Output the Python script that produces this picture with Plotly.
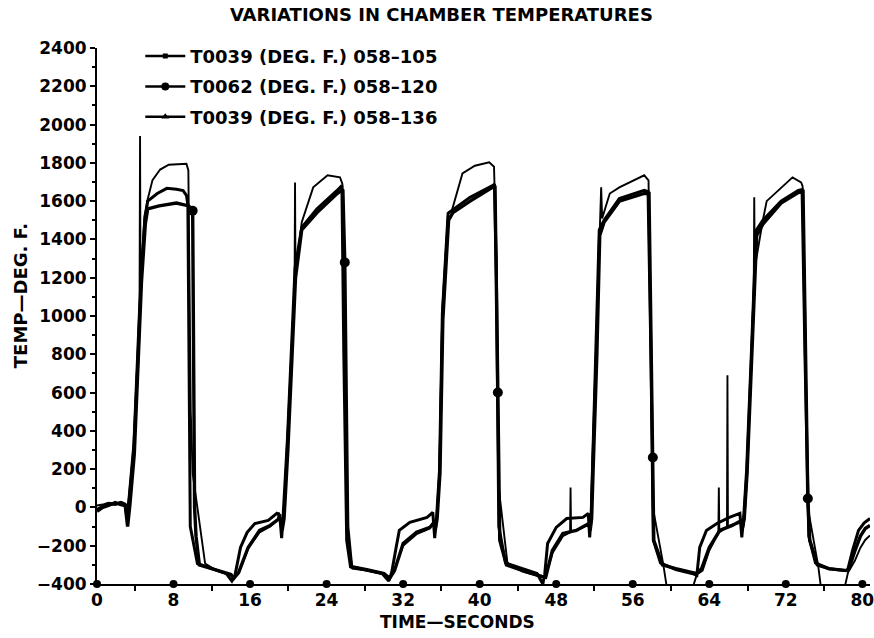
import numpy as np
import plotly.graph_objects as go

# ---------------- data ----------------
# T0039 (DEG. F.) 058-105
t_a = [0, 0.6, 1.2, 1.9, 2.5, 2.95, 3.15, 3.35, 3.85, 4.3, 4.6, 5.0, 5.3, 6.3, 7.3, 8.3, 9.0, 9.35, 9.5, 9.75, 10.5,
       12.0, 13.5, 14.1, 14.4, 15.0, 15.7, 16.5, 17.9, 18.8, 19.1, 19.3, 19.45, 19.9, 20.7, 21.4, 23.0, 25.1, 25.6, 25.8, 26.1, 26.5,
       28.0, 29.8, 30.5, 30.8, 31.3, 31.6, 32.7, 34.5, 35.1, 35.3, 35.5, 35.8, 36.1, 36.7, 37.1, 39.0, 41.4, 41.55, 41.75, 42.0, 42.7,
       44.5, 46.0, 46.6, 46.8, 47.1, 48.0, 49.1, 50.8, 51.35, 51.5, 51.65, 51.8, 52.2, 52.5, 53.0, 54.6, 57.2, 57.6, 57.9, 58.15, 58.9,
       60.5, 62.2, 62.7, 63.0, 63.7, 64.8, 66.1, 67.2, 67.4, 67.6, 67.9, 68.4, 68.9, 69.6, 71.5, 73.3, 73.7, 74.0, 74.4, 75.1,
       76.5, 78.2, 78.45, 79.0, 79.6, 80.2, 80.8]
v_a = [-10, 5, 20, 15, 25, 15, -60, 30, 300, 800, 1200, 1500, 1600, 1640, 1667, 1662, 1655, 1630, 1580, -100, -293,
       -320, -345, -385, -360, -209, -130, -84, -68, -31, -40, -160, -50, 350, 1250, 1463, 1560, 1656, 1682, 800, -172, -310,
       -325, -345, -385, -340, -200, -120, -78, -52, -26, -160, -50, 193, 1013, 1536, 1552, 1620, 1682, 1690, 1200, -100, -290,
       -320, -345, -400, -350, -188, -104, -58, -52, -31, -157, -50, 193, 836, 1450, 1500, 1614, 1656, 1650, 800, -170, -290,
       -325, -345, -355, -209, -120, -84, -52, -31, -157, -50, 193, 805, 1447, 1500, 1600, 1656, 1660, 800, -150, -290,
       -320, -330, -330, -220, -120, -80, -58]

# T0062 (DEG. F.) 058-120
t_b = [0, 0.6, 1.2, 1.9, 2.5, 2.95, 3.2, 3.45, 3.9, 4.35, 4.65, 5.05, 5.3, 6.5, 8.3, 9.6, 10.0, 10.2, 10.35, 10.7,
       12.5, 14.0, 14.3, 14.8, 15.8, 17.0, 18.1, 19.0, 19.2, 19.35, 19.55, 19.95, 20.75, 21.4, 23.0, 25.1, 25.7, 25.9, 26.2, 26.6,
       28.2, 30.0, 30.6, 31.1, 32.0, 33.4, 34.8, 35.2, 35.35, 35.55, 35.85, 36.15, 36.75, 37.2, 39.0, 41.3, 41.6, 41.9, 42.1, 42.8,
       44.5, 46.5, 46.9, 47.6, 48.7, 50.1, 51.4, 51.55, 51.7, 51.85, 52.25, 52.55, 53.0, 54.6, 57.2, 57.7, 58.1, 58.2, 59.1,
       60.5, 62.6, 63.2, 64.0, 65.1, 66.4, 67.3, 67.45, 67.65, 67.95, 68.45, 68.95, 69.6, 71.5, 73.3, 73.8, 74.3, 74.5, 75.3,
       76.5, 78.3, 78.6, 79.2, 79.8, 80.3, 80.8]
v_b = [-20, 0, 10, 25, 15, 10, -100, 20, 280, 780, 1180, 1480, 1560, 1575, 1590, 1575, 1550, 0, -150, -300,
       -325, -350, -370, -340, -209, -120, -94, -60, -70, -120, -60, 300, 1200, 1450, 1540, 1640, 1660, 1280, -100, -310,
       -325, -345, -370, -330, -188, -130, -104, -80, -120, -60, 180, 980, 1500, 1540, 1600, 1670, 1680, 600, -172, -300,
       -330, -360, -365, -225, -136, -120, -84, -120, -60, 180, 800, 1420, 1490, 1600, 1640, 1640, 261, -172, -300,
       -320, -345, -320, -209, -120, -94, -70, -110, -60, 180, 780, 1420, 1480, 1590, 1645, 1650, 47, -172, -300,
       -320, -330, -320, -230, -150, -110, -94]

# T0039 (DEG. F.) 058-136
t_c = [0, 0.6, 1.2, 1.9, 2.5, 2.95, 3.1, 3.3, 3.8, 4.25, 4.45, 4.5, 4.55, 4.95, 5.3, 5.8, 6.6, 7.5, 9.0, 9.35, 9.55, 9.8, 10.0, 11.3,
       12.5, 14.0, 14.3, 14.8, 15.8, 17.0, 18.1, 18.9, 19.0, 19.1, 19.3, 19.5, 19.85, 20.65, 20.7, 20.75, 21.4, 22.6, 24.1, 25.4, 25.65, 25.85, 26.2, 26.7,
       28.2, 30.0, 30.6, 31.0, 32.0, 33.4, 34.8, 35.2, 35.4, 35.6, 35.8, 36.1, 36.7, 37.1, 38.2, 39.5, 41.0, 41.5, 41.75, 42.0, 42.9,
       44.5, 46.5, 46.9, 47.6, 48.7, 49.45, 49.5, 49.55, 50.1, 51.4, 51.6, 51.75, 52.2, 52.6, 52.7, 52.8, 53.6, 54.6, 57.2, 57.65, 57.85, 58.1, 59.2, 59.6,
       62.2, 62.7, 63.3, 64.0, 64.95, 65.0, 65.05, 65.85, 65.9, 65.95, 66.4, 67.3, 67.5, 67.7, 68.0, 68.45, 68.65, 68.7, 68.75, 69.6, 70.0, 72.7, 73.6, 73.75, 74.0, 74.3, 75.4, 75.7,
       78.1, 78.5, 79.2, 79.8, 80.3, 80.8]
v_c = [10, 15, 25, 20, 30, 20, -40, 50, 330, 830, 1100, 1940, 1150, 1520, 1610, 1710, 1765, 1790, 1797, 1795, 1760, 500, 178, -293,
       -330, -355, -370, -345, -215, -130, -100, -65, -26, -60, -70, -45, 320, 1150, 1698, 1200, 1490, 1672, 1735, 1724, 1690, 900, -150, -320,
       -330, -350, -365, -340, -200, -140, -110, -70, -90, -40, 220, 1040, 1540, 1552, 1745, 1785, 1803, 1780, 1300, 100, -290,
       -335, -365, -360, -240, -150, -130, 104, -125, -120, -90, -70, 200, 850, 1450, 1672, 1510, 1640, 1672, 1735, 1708, 1000, 0, -300, -430,
       -430, -350, -330, -225, -135, 104, -130, -105, 690, -100, -90, -80, -120, -50, 200, 800, 1150, 1620, 1250, 1500, 1600, 1724, 1698, 1680, 1100, 0, -310, -430,
       -430, -340, -280, -210, -170, -146]

# times at which the T0062 circle markers sit on its trace
marker_times_b = [10.0, 25.9, 41.9, 58.1, 74.3]

series_names = ["T0039 (DEG. F.) 058\u2013105",
                "T0062 (DEG. F.) 058\u2013120",
                "T0039 (DEG. F.) 058\u2013136"]

x_tick_vals = list(range(0, 81, 8))
x_minor_vals = list(range(4, 80, 8))
y_tick_vals = list(range(-400, 2401, 200))

title_text = "VARIATIONS IN CHAMBER TEMPERATURES"
x_title = "TIME\u2014SECONDS"
y_title = "TEMP\u2014DEG. F."

# ---------------- figure ----------------
FONT = "DejaVu Sans"
W, H = 874, 638
fig = go.Figure()

widths = [3.0, 3.4, 1.9]
symbols = ["square", "circle", "triangle-up"]
msizes = [5, 8, 7]
for (tt, vv), w in zip([(t_a, v_a), (t_b, v_b), (t_c, v_c)], widths):
    fig.add_trace(go.Scatter(x=tt, y=vv, mode="lines",
                             line=dict(color="black", width=w),
                             showlegend=False, hoverinfo="skip"))

# circle markers on T0062
fig.add_trace(go.Scatter(x=marker_times_b, y=np.interp(marker_times_b, t_b, v_b),
                         mode="markers", marker=dict(color="black", size=10, symbol="circle"),
                         showlegend=False, hoverinfo="skip"))

# axis decoration dots at labelled time ticks
fig.add_trace(go.Scatter(x=x_tick_vals, y=[y_tick_vals[0]] * len(x_tick_vals),
                         mode="markers", marker=dict(color="black", size=8, symbol="circle"),
                         cliponaxis=False, showlegend=False, hoverinfo="skip"))

# legend entries
for i, name in enumerate(series_names):
    fig.add_trace(go.Scatter(x=[None], y=[None], mode="lines+markers", name=name,
                             legendgroup=f"g{i}",
                             line=dict(color="black", width=2.5),
                             marker=dict(color="black", size=msizes[i], symbol=symbols[i])))

axis_font = dict(family=FONT, size=17, color="black", weight="bold")

fig.update_layout(
    width=W, height=H,
    margin=dict(l=97, r=4, t=48, b=54, autoexpand=False),
    paper_bgcolor="white", plot_bgcolor="white",
    title=dict(text=title_text, x=0.505, xanchor="center", y=1 - 15 / H, yanchor="middle",
               pad=dict(t=0, b=0),
               font=dict(family=FONT, size=18, color="black", weight="bold")),
    legend=dict(x=0.056, xanchor="left", y=1.019, yanchor="top",
                bgcolor="rgba(0,0,0,0)", tracegroupgap=4, itemwidth=40,
                font=dict(family=FONT, size=18, color="black", weight="bold"),
                traceorder="grouped"),
    xaxis=dict(range=[0, 80.8], tickvals=x_tick_vals, ticks="", showgrid=False, zeroline=False,
               showline=True, linecolor="black", linewidth=2, automargin=False,
               tickfont=axis_font, ticklabeloverflow="allow",
               minor=dict(tickvals=x_minor_vals, ticks="outside",
                          ticklen=5, tickcolor="black", tickwidth=2)),
    yaxis=dict(range=[-400, 2400], tickvals=y_tick_vals, ticks="outside", ticklen=5, tickwidth=2,
               tickcolor="black", showgrid=False, zeroline=False, automargin=False,
               showline=True, linecolor="black", linewidth=2,
               tickfont=axis_font, ticklabelstandoff=0, ticklabeloverflow="allow",
               minor=dict(dtick=100, tick0=-400, ticks="outside", ticklen=3, tickcolor="black", tickwidth=2)),
    annotations=[
        dict(text=x_title, xref="paper", yref="paper", x=0.466, y=-0.071, xanchor="center", yanchor="middle",
             showarrow=False, font=dict(family=FONT, size=17, color="black", weight="bold")),
        dict(text=y_title, xref="paper", yref="paper", x=-0.0996, y=0.537, xanchor="center", yanchor="middle",
             textangle=-90, showarrow=False, font=dict(family=FONT, size=18, color="black", weight="bold")),
    ],
)

# remove the browser's default body margin so the figure fills the window exactly
fig.write_html("out.html", config={"displayModeBar": False},
               post_script="document.body.style.margin='0';")
